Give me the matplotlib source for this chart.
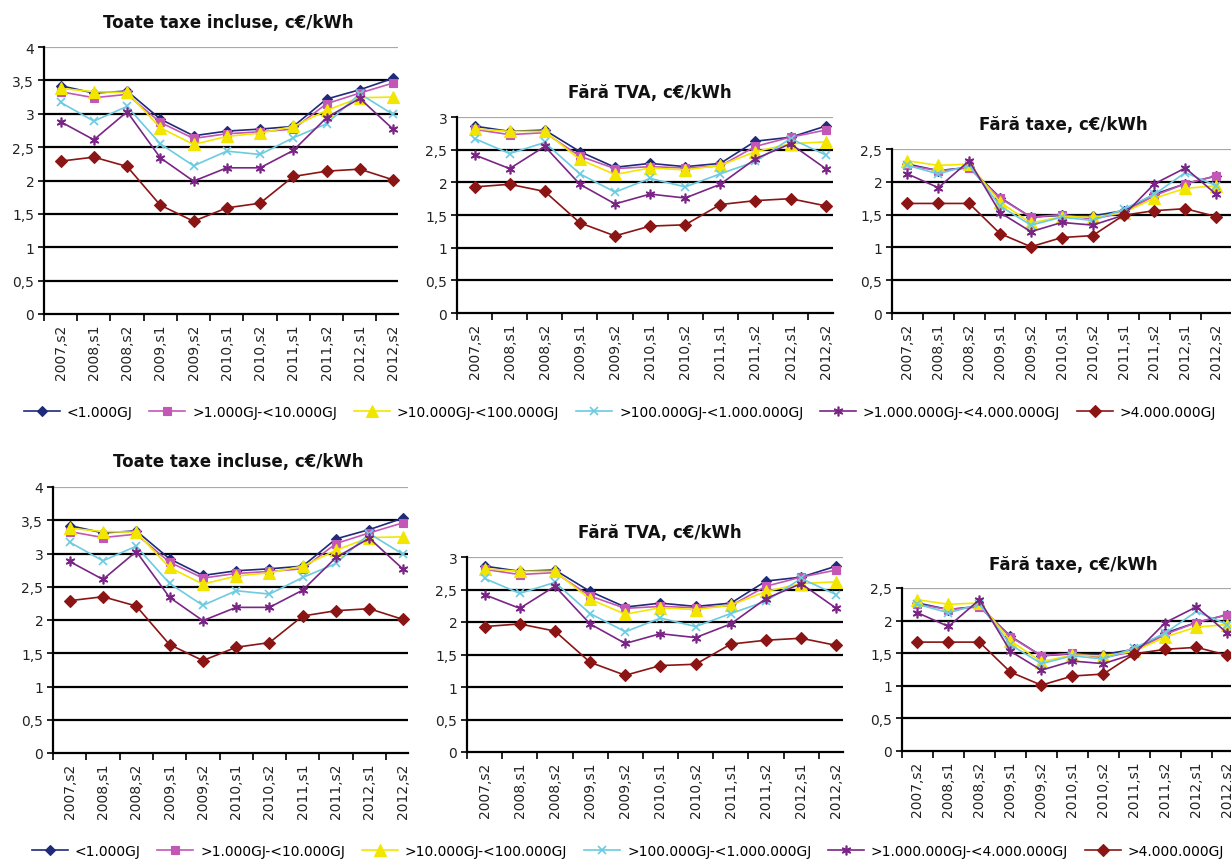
import matplotlib
matplotlib.use("Agg")
import matplotlib.pyplot as plt
from matplotlib.lines import Line2D
from matplotlib.ticker import FuncFormatter, FixedLocator

categories = ["2007,s2", "2008,s1", "2008,s2", "2009,s1", "2009,s2", "2010,s1",
              "2010,s2", "2011,s1", "2011,s2", "2012,s1", "2012,s2"]
series_names = ["<1.000GJ", ">1.000GJ-<10.000GJ", ">10.000GJ-<100.000GJ",
                ">100.000GJ-<1.000.000GJ", ">1.000.000GJ-<4.000.000GJ", ">4.000.000GJ"]

# Toate taxe incluse
all_taxes = [
    [3.42, 3.31, 3.34, 2.92, 2.67, 2.74, 2.77, 2.81, 3.22, 3.36, 3.53],
    [3.33, 3.24, 3.29, 2.87, 2.63, 2.70, 2.73, 2.77, 3.15, 3.31, 3.46],
    [3.38, 3.33, 3.32, 2.79, 2.54, 2.66, 2.71, 2.81, 3.05, 3.24, 3.25],
    [3.17, 2.89, 3.11, 2.55, 2.22, 2.44, 2.39, 2.64, 2.85, 3.30, 2.99],
    [2.88, 2.61, 3.03, 2.34, 1.99, 2.19, 2.19, 2.45, 2.94, 3.23, 2.77],
    [2.29, 2.35, 2.21, 1.63, 1.39, 1.59, 1.66, 2.06, 2.14, 2.17, 2.01],
]
# Fara TVA
no_vat = [
    [2.86, 2.78, 2.80, 2.47, 2.23, 2.29, 2.24, 2.29, 2.63, 2.69, 2.86],
    [2.81, 2.73, 2.76, 2.40, 2.21, 2.24, 2.22, 2.25, 2.55, 2.69, 2.80],
    [2.82, 2.78, 2.78, 2.35, 2.12, 2.22, 2.19, 2.26, 2.47, 2.59, 2.62],
    [2.67, 2.44, 2.61, 2.13, 1.85, 2.06, 1.93, 2.13, 2.32, 2.67, 2.42],
    [2.42, 2.21, 2.55, 1.97, 1.67, 1.82, 1.76, 1.97, 2.36, 2.59, 2.21],
    [1.93, 1.97, 1.86, 1.38, 1.18, 1.33, 1.35, 1.66, 1.72, 1.75, 1.64],
]
# Fara taxe
no_taxes = [
    [2.27, 2.17, 2.22, 1.76, 1.46, 1.49, 1.48, 1.56, 1.81, 1.97, 2.09],
    [2.25, 2.17, 2.21, 1.75, 1.46, 1.50, 1.43, 1.53, 1.79, 1.97, 2.09],
    [2.32, 2.25, 2.27, 1.69, 1.37, 1.47, 1.46, 1.53, 1.75, 1.90, 1.94],
    [2.25, 2.12, 2.25, 1.63, 1.34, 1.46, 1.41, 1.58, 1.81, 2.14, 1.94],
    [2.12, 1.91, 2.32, 1.53, 1.24, 1.38, 1.34, 1.49, 1.97, 2.21, 1.81],
    [1.67, 1.67, 1.67, 1.21, 1.01, 1.15, 1.18, 1.49, 1.56, 1.59, 1.47],
]

titles = ["Toate taxe incluse, c€/kWh", "Fără TVA, c€/kWh", "Fără taxe, c€/kWh"]
ymaxes = [4.0, 3.0, 2.5]
datasets = [all_taxes, no_vat, no_taxes]

colors = ["#1F2A7A", "#C357B5", "#F2E600", "#6CCBE0", "#7A2585", "#8B1414"]
markers = ["D", "s", "^", "x", (6, 2, 0), "D"]
msizes = [5, 6, 8, 6, 7, 6.5]

W, H = 1231, 862
fig = plt.figure(figsize=(W / 100, H / 100), dpi=100)
fig.patch.set_facecolor("white")


def add_ax(l, t, r, b):
    return fig.add_axes([l / W, 1 - b / H, (r - l) / W, (b - t) / H])


def fmt(v, pos):
    s = ("%g" % v).replace(".", ",")
    return s


# (left, top, right, bottom, xmax, title_x, title_y)
layout = [
    [(44, 48, 398, 315, 10.15, 228, 23), (457, 118, 833, 314, 10.21, 650, 93),
     (892, 150, 1231, 314, 10.48, 1063, 125)],
    [(53, 488, 408, 754, 10.16, 238, 462), (467, 558, 843, 753, 10.19, 660, 533),
     (902, 589, 1231, 752, 10.12, 1073, 565)],
]

x = list(range(len(categories)))
for row in layout:
    for k, (l, t, r, b, xmax, tx, ty) in enumerate(row):
        ax = add_ax(l, t, r, b)
        ymax = ymaxes[k]
        ax.set_xlim(-0.5, xmax)
        ax.set_ylim(0, ymax)
        yt = [i * 0.5 for i in range(int(ymax / 0.5) + 1)]
        for yv in yt[1:]:
            c = "#A8A8A8" if yv == ymax else "black"
            ax.axhline(yv, color=c, lw=1.6, zorder=1)
        for s, vals in enumerate(datasets[k]):
            ax.plot(x, vals, color=colors[s], marker=markers[s], markersize=msizes[s],
                    lw=1.2, markeredgewidth=1.2 if s in (3, 4) else 0.8,
                    markeredgecolor=colors[s], zorder=3 + s, clip_on=False)
        for side in ("top", "right"):
            ax.spines[side].set_visible(False)
        for side in ("left", "bottom"):
            ax.spines[side].set_color("black")
            ax.spines[side].set_linewidth(1.6)
        ax.set_yticks(yt)
        ax.yaxis.set_major_formatter(FuncFormatter(fmt))
        ax.tick_params(axis="y", direction="out", length=4, width=1.2,
                       labelsize=10, labelcolor="#222222", pad=3)
        ax.xaxis.set_major_locator(FixedLocator([i - 0.5 for i in range(len(categories) + 1)]))
        ax.xaxis.set_minor_locator(FixedLocator(x))
        ax.set_xticklabels([], minor=False)
        ax.set_xticklabels(categories, minor=True, rotation=90, fontsize=10,
                           color="#222222", va="top", ha="center")
        ax.tick_params(axis="x", which="major", direction="out", length=5, width=1.2)
        ax.tick_params(axis="x", which="minor", length=0, pad=7)
        fig.text(tx / W, 1 - ty / H, titles[k], ha="center", va="center",
                 fontsize=12, fontweight="bold", color="#111111")

handles = [Line2D([0], [0], color=colors[s], marker=markers[s], markersize=msizes[s],
                  lw=1.2, markeredgecolor=colors[s],
                  markeredgewidth=1.2 if s in (3, 4) else 0.8) for s in range(6)]

for cx, cy in [(620, 413), (628, 852)]:
    fig.legend(handles, series_names, loc="center", bbox_to_anchor=(cx / W, 1 - cy / H),
               ncol=6, frameon=False, fontsize=10, handlelength=2.6, handletextpad=0.5,
               columnspacing=1.2, borderpad=0, borderaxespad=0)

fig.savefig("out.png", dpi=100, facecolor="white")
